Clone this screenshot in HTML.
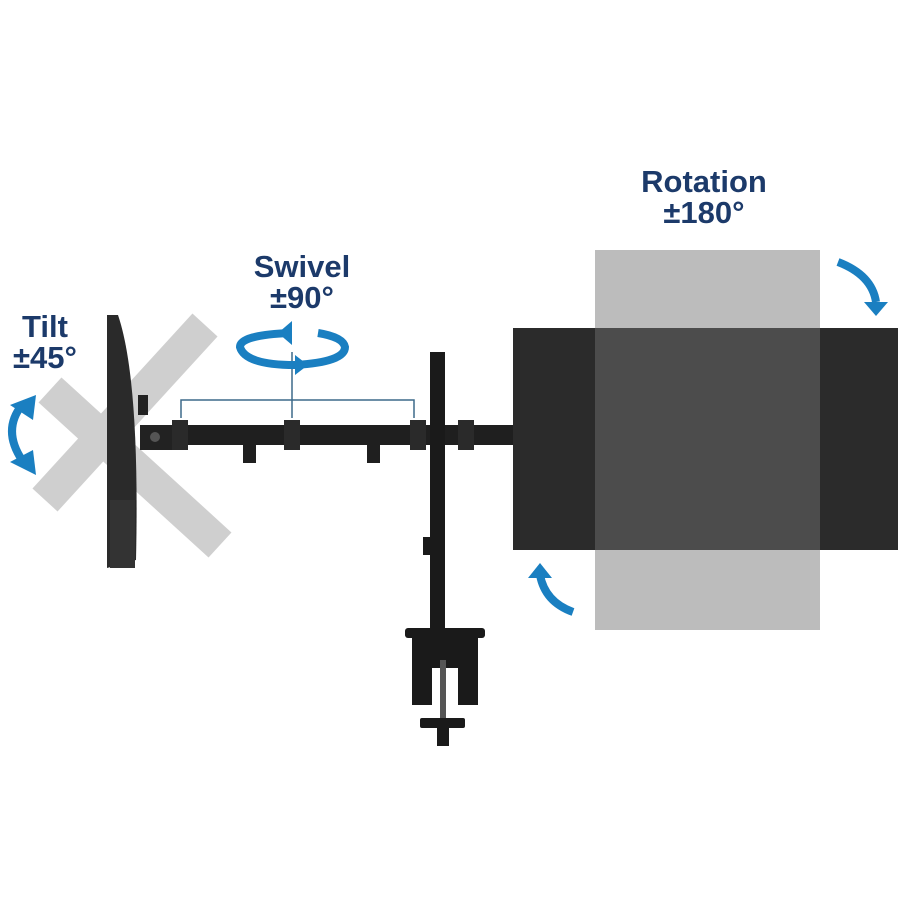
<!DOCTYPE html>
<html><head><style>
html,body{margin:0;padding:0;background:#fff;width:900px;height:900px;overflow:hidden}
svg{display:block}
text{font-family:"Liberation Sans",sans-serif;font-weight:bold;fill:#1c3a6a}
</style></head><body>
<svg width="900" height="900" viewBox="0 0 900 900">
<text x="704" y="192" font-size="31" text-anchor="middle">Rotation</text>
<text x="704" y="223" font-size="31" text-anchor="middle">±180°</text>
<text x="302" y="277" font-size="31" text-anchor="middle">Swivel</text>
<text x="302" y="308" font-size="31" text-anchor="middle">±90°</text>
<text x="45" y="337" font-size="31" text-anchor="middle">Tilt</text>
<text x="45" y="368" font-size="31" text-anchor="middle">±45°</text>

<g stroke="#cfcfcf" stroke-width="34" stroke-linecap="butt">
<line x1="205" y1="325" x2="45" y2="500"/>
<line x1="50" y1="390" x2="220" y2="545"/>
</g>
<path d="M107 315 L118 315 Q140 380 136 560 L107 568 Z" fill="#2a2a2a"/>
<rect x="110" y="500" width="25" height="68" fill="#333"/>
<rect x="138" y="395" width="10" height="20" fill="#222"/>
<rect x="140" y="425" width="35" height="25" fill="#222"/>
<circle cx="155" cy="437" r="5" fill="#555"/>

<rect x="175" y="425" width="340" height="20" fill="#1f1f1f"/>
<rect x="243" y="445" width="13" height="18" fill="#1f1f1f"/>
<rect x="367" y="445" width="13" height="18" fill="#1f1f1f"/>
<g fill="#2a2a2a">
<rect x="172" y="420" width="16" height="30"/><rect x="284" y="420" width="16" height="30"/>
<rect x="410" y="420" width="16" height="30"/><rect x="458" y="420" width="16" height="30"/>
</g>
<path d="M181 418 V400 H414 V418 M292 418 V352" stroke="#3d6a8a" stroke-width="1.5" fill="none"/>

<rect x="430" y="352" width="15" height="285" fill="#1a1a1a"/>
<rect x="423" y="537" width="8" height="18" fill="#1a1a1a"/>
<rect x="405" y="628" width="80" height="10" rx="3" fill="#1a1a1a"/>
<path d="M412 638 H478 V705 H458 V668 H432 V705 H412 Z" fill="#1a1a1a"/>
<rect x="440" y="660" width="6" height="65" fill="#555"/>
<rect x="420" y="718" width="45" height="10" rx="2" fill="#1a1a1a"/>
<rect x="437" y="728" width="12" height="18" fill="#1a1a1a"/>

<rect x="595" y="250" width="225" height="380" fill="#bcbcbc"/>
<rect x="513" y="328" width="385" height="222" fill="#2b2b2b"/>
<rect x="595" y="328" width="225" height="222" fill="#4c4c4c"/>

<g fill="none" stroke="#1a7fc1" stroke-width="8">
<path d="M838 262 Q872 275 876 302"/>
<path d="M573 612 Q545 602 540 575"/>
<path d="M22 460 Q2 430 22 405"/>
<path d="M290 333 Q240 335 240 347 Q245 365 295 365 Q345 362 345 347 Q343 337 318 333"/>
</g>
<g fill="#1a7fc1">
<polygon points="864,302 888,302 876,316"/>
<polygon points="528,578 552,578 540,563"/>
<polygon points="10,405 36,395 33,420"/>
<polygon points="10,462 36,475 33,450"/>
<polygon points="278,333 292,321 292,345"/>
<polygon points="295,355 308,365 295,375"/>
</g>
</svg>
</body></html>
